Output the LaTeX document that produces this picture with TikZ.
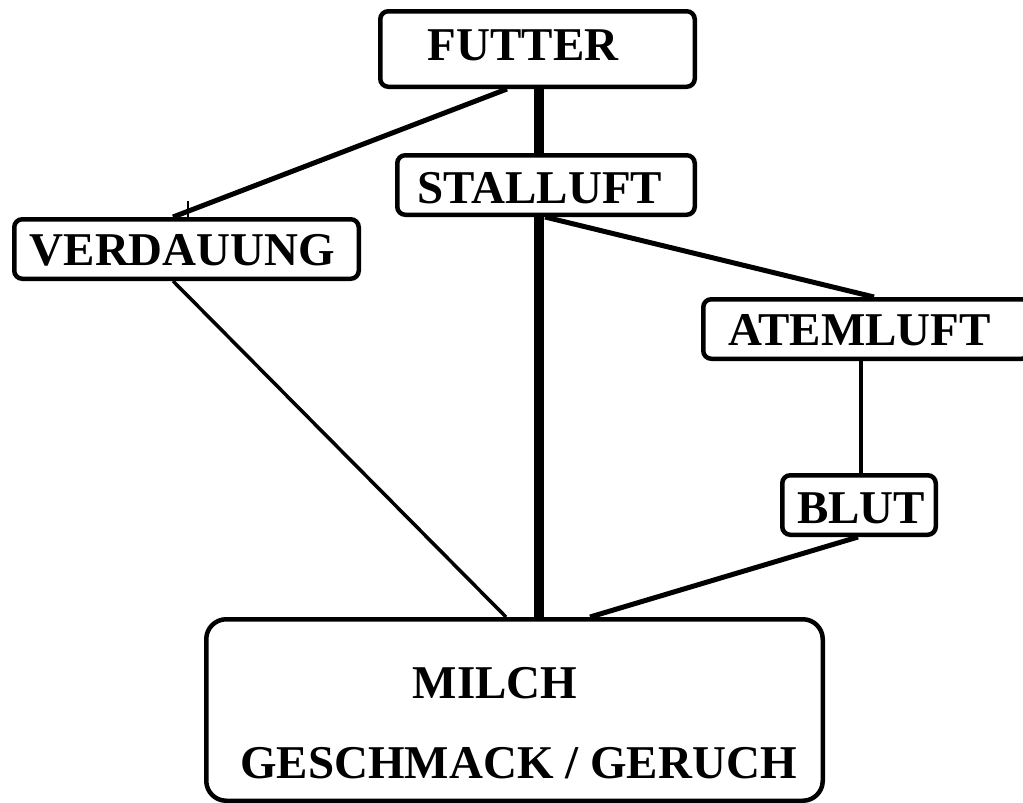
\documentclass[tikz,border=0pt]{standalone}
\usepackage{fontspec}
\setmainfont{Liberation Serif}
\usetikzlibrary{backgrounds}
\begin{document}
\begin{tikzpicture}[x=1pt,y=-1pt,
  box/.style={draw, line width=4.5pt, rounded corners=8pt, fill=white, inner sep=0pt},
  lbl/.style={inner sep=0pt, anchor=base, font=\fontsize{47pt}{56pt}\selectfont\bfseries},
  conn/.style={line width=5pt},
  midconn/.style={line width=4pt},
  thinconn/.style={line width=3.5pt},
  trunk/.style={line width=10.5pt}]
\useasboundingbox (0,0) rectangle (1023,803);
\clip (0,0) rectangle (1023,803);
% boxes
\node[box, minimum width=314.5pt, minimum height=75.5pt] (futter) at (537.5,49) {};
\node[lbl] (futterT) at (523,60) {FUTTER};
\node[box, minimum width=297.5pt, minimum height=59.5pt] (stall) at (546,185) {};
\node[lbl] (stallT) at (540,203) {STALLUFT};
\node[box, minimum width=344.5pt, minimum height=59.5pt] (verd) at (186.5,249) {};
\node[lbl] (verdT) at (182.5,265) {VERDAUUNG};
\node[box, minimum width=326.5pt, minimum height=59.5pt] (atem) at (866.5,329) {};
\node[lbl] (atemT) at (859.5,345) {ATEMLUFT};
\node[box, minimum width=153.5pt, minimum height=59.5pt] (blut) at (859,505) {};
\node[lbl] (blutT) at (861,523) {BLUT};
\node[box, rounded corners=20pt, minimum width=616.5pt, minimum height=181.5pt] (milch) at (514.5,710) {};
\node[lbl] (milchT) at (495,698) {MILCH};
\node[lbl] (geschT) at (518.5,778) {GESCHMACK / GERUCH};
% connectors
\begin{scope}[on background layer]
\draw[conn] ([xshift=-30.5pt]futter.south) -- ([xshift=-13.5pt]verd.north);
\draw[line width=2pt] ([xshift=1.5pt]verd.north) -- ++(0,-16);
\draw[trunk] ([xshift=1.5pt]futter.south) -- ([xshift=-7pt]stall.north);
\draw[trunk] ([xshift=-7pt]stall.south) -- ([xshift=24.5pt]milch.north);
\draw[conn] ([xshift=-1pt]stall.south) -- ([xshift=7.5pt]atem.north);
\draw[thinconn] ([xshift=-13.5pt]verd.south) -- ([xshift=-8.5pt]milch.north);
\draw[midconn] ([xshift=-5.5pt]atem.south) -- ([xshift=2pt]blut.north);
\draw[conn] ([xshift=-1pt]blut.south) -- ([xshift=75.5pt]milch.north);
\end{scope}
\end{tikzpicture}
\end{document}
